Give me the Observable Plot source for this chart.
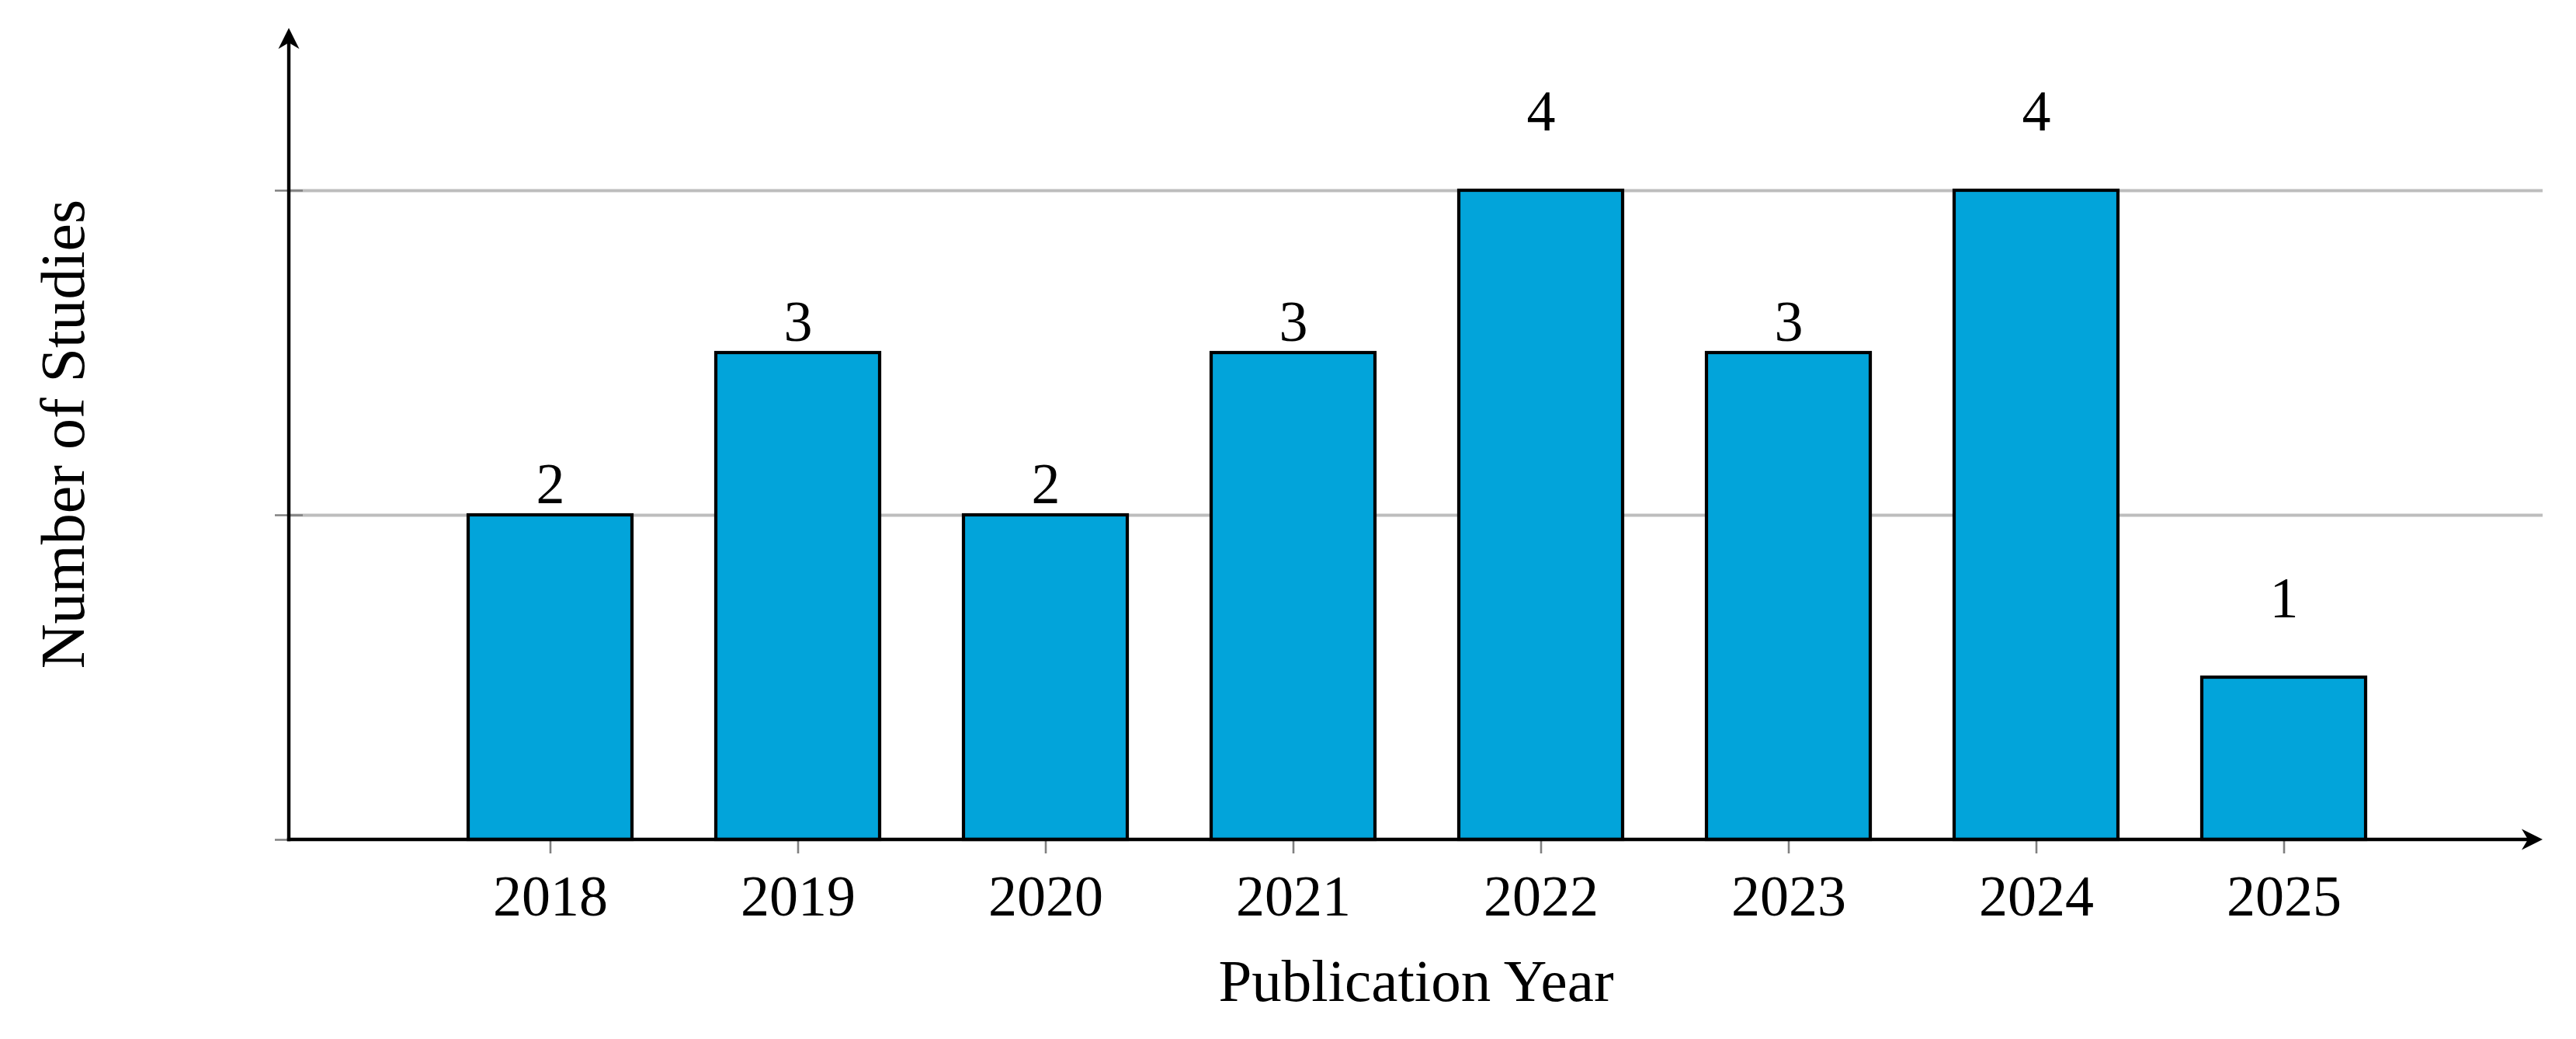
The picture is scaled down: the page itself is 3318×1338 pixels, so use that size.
<!DOCTYPE html>
<html>
<head>
<meta charset="utf-8">
<script src="https://cdn.jsdelivr.net/npm/d3@7"></script>
<script src="https://cdn.jsdelivr.net/npm/@observablehq/plot@0.6"></script>
<style>
  html, body { margin: 0; padding: 0; background: white; }
  #chart { width: 3318px; height: 1338px; }
</style>
</head>
<body>
<div id="chart"></div>
<script>
const years = ["2018", "2019", "2020", "2021", "2022", "2023", "2024", "2025"];
const counts = [2, 3, 2, 3, 4, 3, 4, 1];
const gridValues = [2, 4];
const yTickValues = [0, 2, 4];
const xTitle = "Publication Year";
const yTitle = "Number of Studies";

const data = years.map((year, i) => ({year, count: counts[i]}));

const barFill = "#02a4da";
const font = "'Liberation Serif', 'DejaVu Serif', serif";

// axis lines with filled arrowheads, drawn from the scales and frame
function axisArrows(index, scales, values, dims) {
  const g = d3.create("svg:g");
  const xl = dims.marginLeft;
  const xr = dims.width - dims.marginRight;
  const y0 = scales.y(0);
  const yt = scales.y(5);
  const sw = 4.4, L = 27, H = 13.5, N = 19;
  g.append("line").attr("x1", xl - sw / 2).attr("x2", xr - N).attr("y1", y0).attr("y2", y0)
    .attr("stroke", "black").attr("stroke-width", sw);
  g.append("line").attr("x1", xl).attr("x2", xl).attr("y1", y0 + sw / 2).attr("y2", yt + N)
    .attr("stroke", "black").attr("stroke-width", sw);
  g.append("path")
    .attr("d", `M${xr},${y0}L${xr - L},${y0 - H}L${xr - N},${y0}L${xr - L},${y0 + H}Z`)
    .attr("fill", "black");
  g.append("path")
    .attr("d", `M${xl},${yt}L${xl - H},${yt + L}L${xl},${yt + N}L${xl + H},${yt + L}Z`)
    .attr("fill", "black");
  return g.node();
}

const isHigh = d => d.count === 1 || d.count === 4;

const chart = Plot.plot({
  width: 3318,
  height: 1338,
  marginLeft: 372,
  marginRight: 43,
  marginTop: 36,
  marginBottom: 257,
  style: {fontFamily: font, background: "white", color: "black"},
  x: {type: "band", domain: years, range: [548.5, 3100.5], paddingInner: 0.34, paddingOuter: 0.17},
  y: {domain: [0, 5]},
  marks: [
    Plot.ruleY(gridValues, {stroke: "#bdbdbd", strokeWidth: 4}),
    Plot.axisY({ticks: yTickValues, tickSize: 36, dx: 18, tickFormat: () => "", stroke: "#808080", strokeWidth: 2.6, label: null}),
    Plot.axisX({tickSize: 18, tickPadding: 27, fontSize: 74, stroke: "#808080", strokeWidth: 2.6, fill: "black", label: null}),
    Plot.barY(data, {x: "year", y: "count", fill: barFill, stroke: "black", strokeWidth: 4.2}),
    axisArrows,
    Plot.text(data.filter(d => !isHigh(d)), {x: "year", y: "count", text: d => String(d.count), dy: -16, lineAnchor: "bottom", fontSize: 74, fill: "black"}),
    Plot.text(data.filter(isHigh), {x: "year", y: "count", text: d => String(d.count), dy: -78, lineAnchor: "bottom", fontSize: 74, fill: "black"}),
    Plot.text([xTitle], {frameAnchor: "bottom", text: d => d, dy: 207, lineAnchor: "bottom", fontSize: 77, fill: "black"}),
    Plot.text([yTitle], {frameAnchor: "left", textAnchor: "middle", text: d => d, rotate: -90, dx: -265, lineAnchor: "bottom", fontSize: 80, fill: "black"})
  ]
});

document.getElementById("chart").appendChild(chart);
</script>
</body>
</html>
